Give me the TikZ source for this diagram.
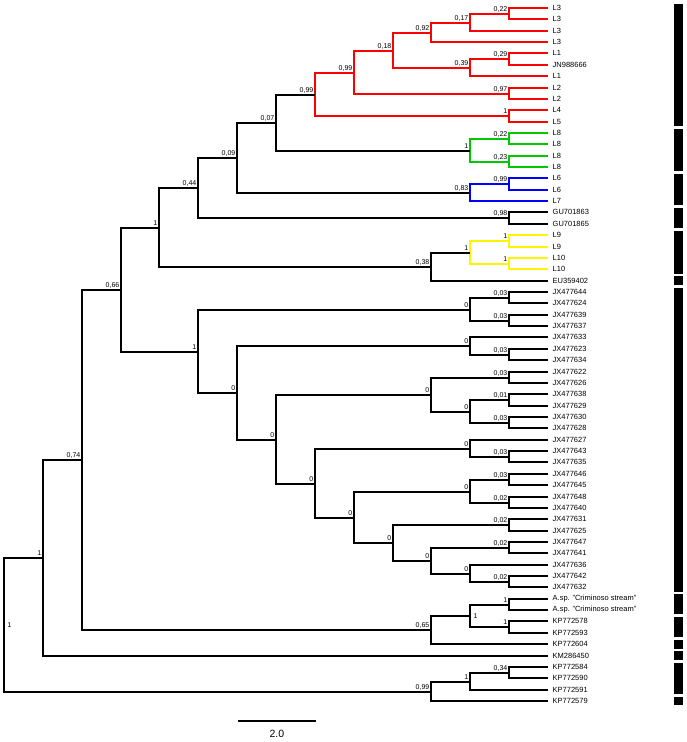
\documentclass[tikz,border=0pt]{standalone}
\usepackage{fontspec}
\setmainfont{Liberation Sans}
\usetikzlibrary{calc}
\definecolor{cgreen}{RGB}{0,200,0}
\definecolor{cyellow}{RGB}{255,245,0}
\tikzset{
  branch/.style={line width=2pt},
  tip label/.style={anchor=west,inner sep=0pt,xshift=4.5pt,font=\fontsize{7.5}{8}\selectfont},
  sup label/.style={anchor=base east,inner sep=0pt,xshift=-1.5pt,yshift=3pt,font=\fontsize{7}{8}\selectfont},
  sup right/.style={anchor=west,inner sep=0pt,xshift=3.5pt,font=\fontsize{7}{8}\selectfont},
  clade bar/.style={fill=black}
}
\def\tipx{548}
\def\stepx{38.857}
\def\stepy{11.361}
% inner node: [label style]{name}{height}{child 1}{child 2}{support}{colour}
\newcommand\inode[7][sup label]{%
  \path let \p1=(#4), \p2=(#5) in
    coordinate (#2) at ({round(\tipx-\stepx*#3)*1pt},{round(0.5*\y1+0.5*\y2)*1pt});
  \draw[branch,#7] (#4) -| (#2);
  \draw[branch,#7] (#5) -| (#2);
  \node[#1] (#2-s) at (#2) {#6};
}

\begin{document}
\begin{tikzpicture}[x=1pt,y=-1pt]
\useasboundingbox (0,0) rectangle (686,742);
% tips
\foreach \lab [count=\i] in {L3,L3,L3,L3,L1,JN988666,L1,L2,L2,L4,L5,
  L8,L8,L8,L8,L6,L6,L7,GU701863,GU701865,L9,L9,L10,L10,EU359402,
  JX477644,JX477624,JX477639,JX477637,JX477633,JX477623,JX477634,
  JX477622,JX477626,JX477638,JX477629,JX477630,JX477628,JX477627,
  JX477643,JX477635,JX477646,JX477645,JX477648,JX477640,JX477631,
  JX477625,JX477647,JX477641,JX477636,JX477642,JX477632,
  {A.sp. "Criminoso stream"},{A.sp. "Criminoso stream"},KP772578,
  KP772593,KP772604,KM286450,KP772584,KP772590,KP772591,KP772579}{
  \coordinate (t\i) at (\tipx,{round(8+\stepy*(\i-1))});
  \node[tip label] (n\i) at (t\i) {\lab};
}
% red clade
\inode{a1}{1}{t1}{t2}{0,22}{red}
\inode{a2}{2}{a1}{t3}{0,17}{red}
\inode{a3}{3}{a2}{t4}{0,92}{red}
\inode{b1}{1}{t5}{t6}{0,29}{red}
\inode{b2}{2}{b1}{t7}{0,39}{red}
\inode{c1}{4}{a3}{b2}{0,18}{red}
\inode{d1}{1}{t8}{t9}{0,97}{red}
\inode{c2}{5}{c1}{d1}{0,99}{red}
\inode{e1}{1}{t10}{t11}{1}{red}
\inode{R}{6}{c2}{e1}{0,99}{red}
% green clade
\inode{g1}{1}{t12}{t13}{0,22}{cgreen}
\inode{g2}{1}{t14}{t15}{0,23}{cgreen}
\inode{G}{2}{g1}{g2}{1}{cgreen}
\inode{N7}{7}{R}{G}{0,07}{black}
% blue clade
\inode{u1}{1}{t16}{t17}{0,99}{blue}
\inode{B}{2}{u1}{t18}{0,83}{blue}
\inode{N8}{8}{N7}{B}{0,09}{black}
\inode{f1}{1}{t19}{t20}{0,98}{black}
\inode{N9}{9}{N8}{f1}{0,44}{black}
% yellow clade
\inode{y1}{1}{t21}{t22}{1}{cyellow}
\inode{y2}{1}{t23}{t24}{1}{cyellow}
\inode{Y}{2}{y1}{y2}{1}{cyellow}
\inode{Y3}{3}{Y}{t25}{0,38}{black}
\inode{N10}{10}{N9}{Y3}{1}{black}
% JX clade
\inode{j1}{1}{t26}{t27}{0,03}{black}
\inode{j2}{1}{t28}{t29}{0,03}{black}
\inode{J1}{2}{j1}{j2}{0}{black}
\inode{j3}{1}{t31}{t32}{0,03}{black}
\inode{J2}{2}{t30}{j3}{0}{black}
\inode{j4}{1}{t33}{t34}{0,03}{black}
\inode{j5}{1}{t35}{t36}{0,01}{black}
\inode{j6}{1}{t37}{t38}{0,03}{black}
\inode{J3}{2}{j5}{j6}{0}{black}
\inode{J4}{3}{j4}{J3}{0}{black}
\inode{j7}{1}{t40}{t41}{0,03}{black}
\inode{J5}{2}{t39}{j7}{0}{black}
\inode{j8}{1}{t42}{t43}{0,03}{black}
\inode{j9}{1}{t44}{t45}{0,02}{black}
\inode{J6}{2}{j8}{j9}{0}{black}
\inode{j10}{1}{t46}{t47}{0,02}{black}
\inode{j11}{1}{t48}{t49}{0,02}{black}
\inode{j12}{1}{t51}{t52}{0,02}{black}
\inode{J7}{2}{t50}{j12}{0}{black}
\inode{J8}{3}{j11}{J7}{0}{black}
\inode{J9}{4}{j10}{J8}{0}{black}
\inode{J10}{5}{J6}{J9}{0}{black}
\inode{J11}{6}{J5}{J10}{0}{black}
\inode{J12}{7}{J4}{J11}{0}{black}
\inode{J13}{8}{J2}{J12}{0}{black}
\inode{J14}{9}{J1}{J13}{1}{black}
\inode{N11}{11}{N10}{J14}{0,66}{black}
% outgroups
\inode{k1}{1}{t53}{t54}{1}{black}
\inode{k2}{1}{t55}{t56}{1}{black}
\inode[sup right]{K1}{2}{k1}{k2}{1}{black}
\inode{K2}{3}{K1}{t57}{0,65}{black}
\inode{N12}{12}{N11}{K2}{0,74}{black}
\inode{N13}{13}{N12}{t58}{1}{black}
\inode{m1}{1}{t59}{t60}{0,34}{black}
\inode{M1}{2}{m1}{t61}{1}{black}
\inode{M2}{3}{M1}{t62}{0,99}{black}
\inode[sup right]{root}{14}{N13}{M2}{1}{black}
% bars
\foreach \a/\b in {1/11,12/15,16/18,19/20,21/24,25/25,26/52,53/54,55/56,57/57,58/58,59/61,62/62}
  \fill[clade bar] (674,{8+\stepy*(\a-1)-4.3}) rectangle (683,{8+\stepy*(\b-1)+4.3});
% scale bar
\coordinate (S0) at (238,721);
\coordinate (S1) at ($(S0)+(2*\stepx,0)$);
\draw[line width=1.5pt] (S0) -- (S1) node[midway,below=8pt,inner sep=0pt,font=\fontsize{10.5}{12}\selectfont] (S) {2.0};
\end{tikzpicture}
\end{document}
